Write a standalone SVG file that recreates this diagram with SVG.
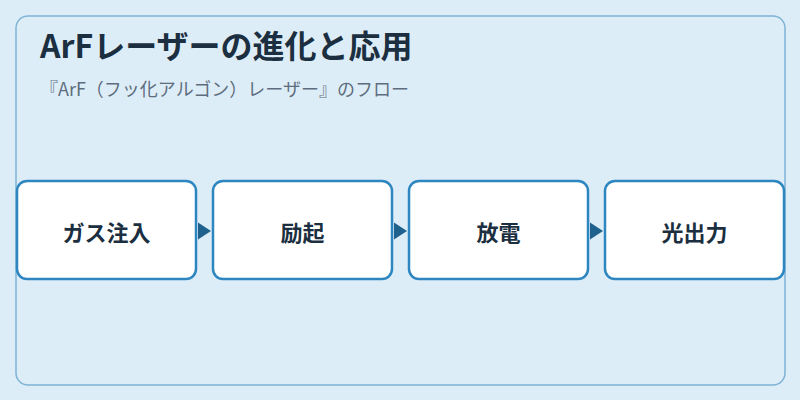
<svg xmlns="http://www.w3.org/2000/svg" width="800" height="400" viewBox="0 0 800 400">
<style>
.title{font-family:"Noto Sans CJK JP","Noto Sans",sans-serif;font-weight:700;font-size:32px;fill:#1b2f40}
.sub{font-family:"Noto Sans CJK JP","Noto Sans",sans-serif;font-size:18px;fill:#5d6d7e}
.box{fill:#ffffff;stroke:#2e86c1;stroke-width:2.5}
.lbl{font-family:"Noto Sans CJK JP","Noto Sans",sans-serif;font-weight:700;font-size:22px;fill:#1b2f40;text-anchor:middle}
.arrow{fill:#1f618d}
</style>
<rect x="0" y="0" width="800" height="400" fill="#ddedf8"/>
<rect x="16" y="16" width="769" height="369" rx="12" fill="#ddedf8" stroke="#7fb3d5" stroke-width="1.5"/>
<text class="title" x="40" y="58">ArFレーザーの進化と応用</text>
<text class="sub" x="40" y="96">『ArF（フッ化アルゴン）レーザー』のフロー</text>
<g id="connectors">
<path class="arrow" d="M198,222.5 L211,231 L198,239.5 z"/>
<path class="arrow" d="M394,222.5 L407,231 L394,239.5 z"/>
<path class="arrow" d="M590,222.5 L603,231 L590,239.5 z"/>
</g>
<g id="n1"><rect class="box" x="17" y="181" width="179" height="98" rx="10"/><text class="lbl" x="106.5" y="241">ガス注入</text></g>
<g id="n2"><rect class="box" x="213" y="181" width="179" height="98" rx="10"/><text class="lbl" x="302.5" y="241">励起</text></g>
<g id="n3"><rect class="box" x="409" y="181" width="179" height="98" rx="10"/><text class="lbl" x="498.5" y="241">放電</text></g>
<g id="n4"><rect class="box" x="605" y="181" width="179" height="98" rx="10"/><text class="lbl" x="694.5" y="241">光出力</text></g>
</svg>
